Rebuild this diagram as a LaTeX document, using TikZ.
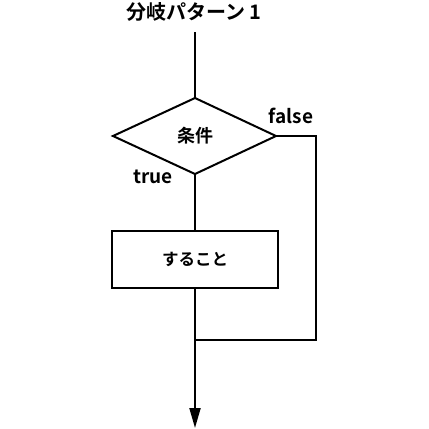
\documentclass[tikz,border=0pt]{standalone}
\usepackage{fontspec}
\newfontfamily\jp{Noto Sans CJK JP}[BoldFont=* Bold]
\usetikzlibrary{shapes.geometric,arrows.meta}
\begin{document}
\begin{tikzpicture}[x=1pt,y=-1pt,
  line/.style={line width=2pt},
  lbl/.style={font=\jp\bfseries\fontsize{19}{19}\selectfont, inner sep=0pt}]
\useasboundingbox (0,0) rectangle (429,429);
\node[lbl, font=\jp\bfseries\fontsize{20}{20}\selectfont] (title) at (194,12) {分岐パターン 1};
\coordinate (top) at (195,32);
\coordinate (dt) at (195,98);
\coordinate (dl) at (113,136);
\coordinate (dr) at (276,136);
\coordinate (db) at (195,174);
\draw[line, line join=miter] (dt) -- (dr) -- (db) -- (dl) -- cycle;
\node[lbl, font=\jp\bfseries\fontsize{18}{18}\selectfont] (cond) at (195,136) {条件};
\draw[line] (top) -- (dt);
\node[lbl] (false) at (291,116) {false};
\node[lbl] (true) at (153,177) {true};
\node[draw, line, minimum width=166pt, minimum height=57pt, inner sep=0pt,
  font=\jp\bfseries\fontsize{16.5}{16.5}\selectfont] (box) at (195,259.5) {すること};
\draw[line] (db) -- (box.north);
\coordinate (fr) at (316,136);
\coordinate (fb) at (316,340);
\coordinate (join) at (195,340);
\draw[line] (dr) -- (fr) -- (fb) -- (join);
\coordinate (end) at (195,428);
\draw[line, -{Triangle[length=20pt,width=11pt]}] (box.south) -- (end);
\end{tikzpicture}
\end{document}
